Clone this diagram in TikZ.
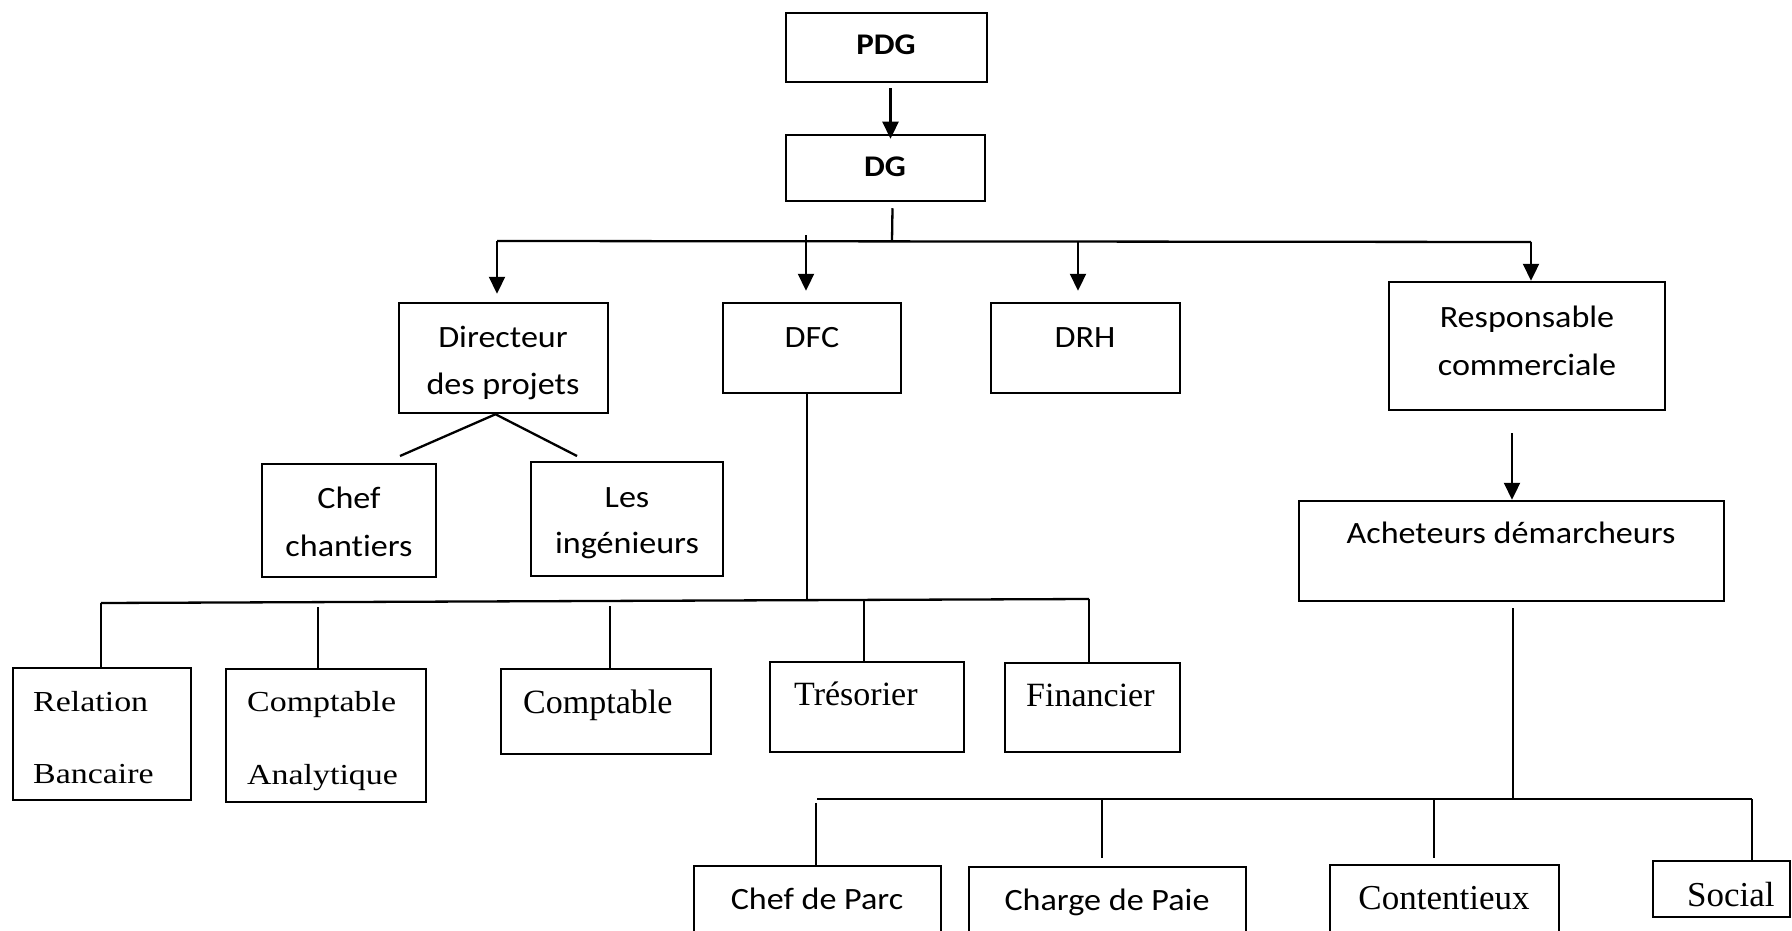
\documentclass[tikz,border=0pt]{standalone}
\usepackage{fontspec}
\usetikzlibrary{arrows.meta}
\newfontfamily\calib{Carlito}[FakeStretch=1.1, Ligatures=NoCommon]
\newfontfamily\tms{Liberation Serif}
\newfontfamily\tmswide{Liberation Serif}[FakeStretch=1.17]
\tikzset{
  box/.style={draw, line width=2.5pt, inner sep=0pt, rectangle},
  conn/.style={line width=2.3pt},
  arr/.style={conn, -{Triangle[length=17pt,width=16pt]}},
  lab/.style={inner sep=0pt, text=black},
  cal/.style={lab, font=\calib\fontsize{31}{37}\selectfont},
  calb/.style={lab, font=\calib\bfseries\fontsize{30}{36}\selectfont},
  ser/.style={lab, font=\tms\fontsize{34}{40}\selectfont},
  serbig/.style={lab, font=\tms\fontsize{35}{41}\selectfont},
  serw/.style={lab, font=\tmswide\fontsize{29}{35}\selectfont},
}
% box given by its left, top, right and bottom edges
\newcommand\orgbox[5]{%
  \node[box, minimum width={(#4)-(#2)}, minimum height={(#5)-(#3)}]
    (#1) at ({((#2)+(#4))/2},{((#3)+(#5))/2}) {};}
\begin{document}
\begin{tikzpicture}[x=1pt, y=-1pt]
\useasboundingbox (0,0) rectangle (1792,931);
\clip (0,0) rectangle (1792,931);

% ---- boxes ----
\orgbox{pdg}{786}{13}{987}{82}
\orgbox{dg}{786}{135}{985}{201}
\orgbox{dir}{399}{303}{608}{413}
\orgbox{dfc}{723}{303}{901}{393}
\orgbox{drh}{991}{303}{1180}{393}
\orgbox{resp}{1389}{282}{1665}{410}
\orgbox{ach}{1299}{501}{1724}{601}
\orgbox{chef}{262}{464}{436}{577}
\orgbox{ing}{531}{462}{723}{576}
\orgbox{rel}{13}{668}{191}{800}
\orgbox{cana}{226}{669}{426}{802}
\orgbox{comp}{501}{669}{711}{754}
\orgbox{tres}{770}{662}{964}{752}
\orgbox{fin}{1005}{663}{1180}{752}
\orgbox{cparc}{694}{866}{941}{960}
\orgbox{cpaie}{969}{867}{1246}{960}
\orgbox{cont}{1330}{865}{1559}{960}
\orgbox{soc}{1653}{861}{1790}{917}

% ---- labels ----
\node[calb, anchor=base] (pdg-t) at (886,55) {PDG};
\node[calb, anchor=base] (dg-t) at (885,177) {DG};
\node[cal, anchor=base] (dir-t1) at (503,347) {Directeur};
\node[cal, anchor=base] (dir-t2) at (503,394) {des projets};
\node[cal, anchor=base] (dfc-t) at (812,347) {DFC};
\node[cal, anchor=base] (drh-t) at (1085,347) {DRH};
\node[cal, anchor=base] (resp-t1) at (1527,327) {Responsable};
\node[cal, anchor=base] (resp-t2) at (1527,375) {commerciale};
\node[cal, anchor=base] (ach-t) at (1511,543) {Acheteurs démarcheurs};
\node[cal, anchor=base] (chef-t1) at (349,508) {Chef};
\node[cal, anchor=base] (chef-t2) at (349,556) {chantiers};
\node[cal, anchor=base] (ing-t1) at (627,507) {Les};
\node[cal, anchor=base] (ing-t2) at (627,553) {ingénieurs};
\node[serw, anchor=base west] (rel-t1) at (33,711) {Relation};
\node[serw, anchor=base west] (rel-t2) at (33,783) {Bancaire};
\node[serw, anchor=base west] (cana-t1) at (247,711) {Comptable};
\node[serw, anchor=base west] (cana-t2) at (247,784) {Analytique};
\node[ser, anchor=base west] (comp-t) at (523,713) {Comptable};
\node[ser, anchor=base west] (tres-t) at (794,705) {Trésorier};
\node[ser, anchor=base west] (fin-t) at (1026,706) {Financier};
\node[cal, anchor=base] (cparc-t) at (817,909) {Chef de Parc};
\node[cal, anchor=base] (cpaie-t) at (1107,910) {Charge de Paie};
\node[serbig, anchor=base] (cont-t) at (1444,909) {Contentieux};
\node[serbig, anchor=base west] (soc-t) at (1687,906) {Social};

% ---- top level ----
\draw[arr] ([xshift=4,yshift=-5]pdg.south) -- ([xshift=4,yshift=-5]pdg.south |- dg.north);

\coordinate (dgbus) at (892,241);
\coordinate (busL) at (497,241);
\coordinate (busR) at (1531,242);
\coordinate (dfcTop) at (806,235);
\coordinate (drhTop) at (1078,241);
\draw[conn] ([xshift=7,yshift=-6]dg.south) -- (dgbus);
\draw[conn] (busL) -- (busR);
\draw[arr, shorten >=8pt] (busL) -- (busL |- dir.north);
\draw[arr, shorten >=11pt] (dfcTop) -- (dfcTop |- dfc.north);
\draw[arr, shorten >=11pt] (drhTop) -- (drhTop |- drh.north);
\draw[arr] (busR) -- (busR |- resp.north);

% ---- projects branch ----
\coordinate (dirApex) at ([xshift=-8]dir.south);
\coordinate (chefEnd) at (400,456);
\coordinate (ingEnd) at (577,456);
\draw[conn] (chefEnd) -- (dirApex) -- (ingEnd);

% ---- finance branch ----
\coordinate (dfcBus) at (807,600);
\coordinate (busBL) at (101,603);
\coordinate (busBR) at (1089,599);
\coordinate (sCana) at (318,607);
\coordinate (sComp) at (610,606);
\coordinate (sTres) at (864,600);
\draw[conn] (dfc.south -| dfcBus) -- (dfcBus);
\draw[conn] (busBL) -- (busBR);
\draw[conn] (busBL) -- (busBL |- rel.north);
\draw[conn] (sCana) -- (sCana |- cana.north);
\draw[conn] (sComp) -- (sComp |- comp.north);
\draw[conn] (sTres) -- (sTres |- tres.north);
\draw[conn] (busBR) -- (busBR |- fin.north);

% ---- commercial branch ----
\coordinate (respTail) at (1512,433);
\draw[arr] (respTail) -- (respTail |- ach.north);
\coordinate (achBus) at (1513,799);
\draw[conn] ([yshift=-6]ach.south -| achBus) -- (achBus);
\coordinate (busCL) at (816,799);
\coordinate (busCR) at (1752,799);
\coordinate (sParc) at (816,803);
\coordinate (sPaie) at (1102,799);
\coordinate (sCont) at (1434,799);
\draw[conn] ([xshift=1]busCL) -- (busCR);
\draw[conn] (sParc) -- (sParc |- cparc.north);
\draw[conn, shorten >=8pt] (sPaie) -- (sPaie |- cpaie.north);
\draw[conn, shorten >=6pt] (sCont) -- (sCont |- cont.north);
\draw[conn] (busCR) -- (busCR |- soc.north);
\end{tikzpicture}
\end{document}
